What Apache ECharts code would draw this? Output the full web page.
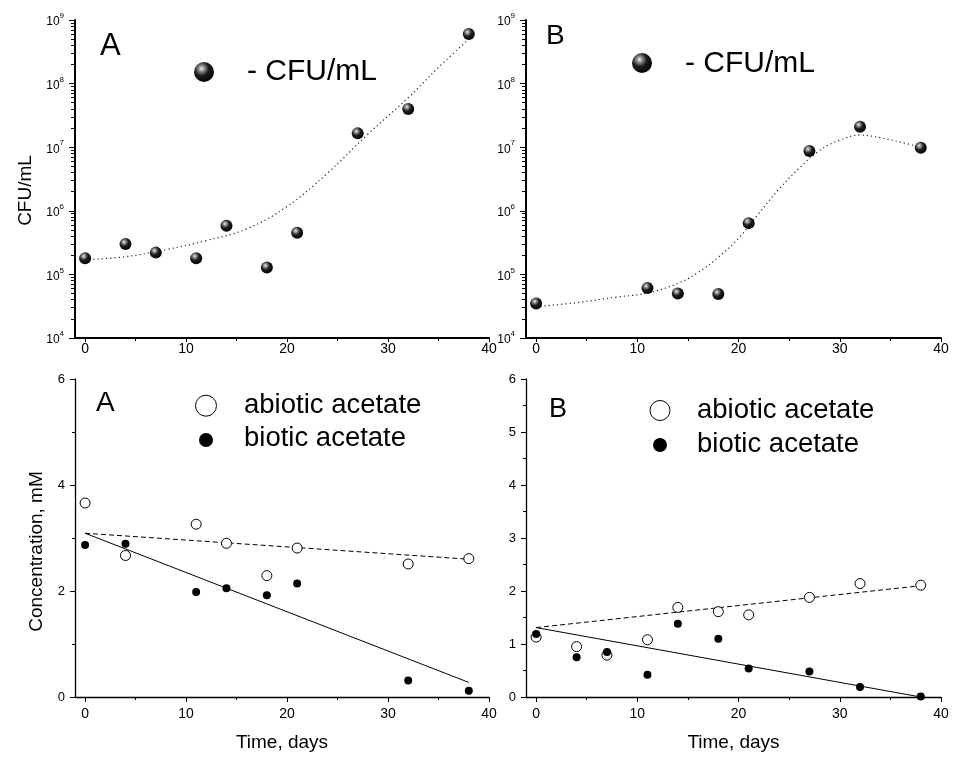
<!DOCTYPE html>
<html>
<head>
<meta charset="utf-8">
<script src="https://cdn.jsdelivr.net/npm/echarts@6/dist/echarts.min.js"></script>
<style>
html,body{margin:0;padding:0;background:#fff;}
#chart{width:953px;height:757px;}
</style>
</head>
<body>
<div id="chart"></div>
<script>
// ---- Data ----
// Panel A (top): CFU/mL
var daysCfuA = [0, 4, 7, 11, 14, 18, 21, 27, 32, 38];
var cfuA = [1.8e5, 3.0e5, 2.2e5, 1.8e5, 5.8e5, 1.28e5, 4.5e5, 1.65e7, 4.0e7, 6.0e8];
var fitDaysCfuA = [0, 4, 8, 12, 16, 20, 24, 28, 32, 35, 38];
var fitCfuA = [1.7e5, 1.9e5, 2.45e5, 3.4e5, 5.2e5, 1.17e6, 3.9e6, 1.6e7, 6.0e7, 1.8e8, 5.0e8];
// Panel B (top): CFU/mL
var daysCfuB = [0, 11, 14, 18, 21, 27, 32, 38];
var cfuB = [3.5e4, 6.1e4, 5.0e4, 4.9e4, 6.4e5, 8.7e6, 2.1e7, 9.8e6];
var fitDaysCfuB = [0, 4, 8, 11, 14, 16, 18, 20, 22, 24, 26, 28, 30, 32, 34, 36, 38];
var fitCfuB = [3.1e4, 3.6e4, 4.4e4, 5.1e4, 7.2e4, 1.07e5, 1.86e5, 3.7e5, 9.1e5, 2.2e6, 4.7e6, 8.9e6, 1.29e7, 1.55e7, 1.41e7, 1.2e7, 1.0e7];
// Panel A (bottom): acetate, mM
var daysAcA = [0, 4, 11, 14, 18, 21, 32, 38];
var abioticA = [3.66, 2.67, 3.26, 2.90, 2.29, 2.81, 2.51, 2.61];
var bioticA = [2.87, 2.89, 1.98, 2.05, 1.92, 2.14, 0.31, 0.12];
var fitDaysAcA = [0, 38];
var abioticFitA = [3.09, 2.60];
var bioticFitA = [3.09, 0.275];
// Panel B (bottom): acetate, mM
var daysAcB = [0, 4, 7, 11, 14, 18, 21, 27, 32, 38];
var abioticB = [1.13, 0.95, 0.79, 1.08, 1.69, 1.61, 1.55, 1.88, 2.14, 2.11];
var bioticB = [1.19, 0.75, 0.85, 0.42, 1.38, 1.10, 0.54, 0.48, 0.19, 0.01];
var fitDaysAcB = [0, 38];
var abioticFitB = [1.31, 2.10];
var bioticFitB = [1.31, 0.0];
// Tick values
var xMajorTicks = [0, 10, 20, 30, 40];
var xMinorTicks = [5, 15, 25, 35];
var logMajorTicks = [1e4, 1e5, 1e6, 1e7, 1e8, 1e9];
var logMinorMultipliers = [2, 3, 4, 5, 6, 7, 8, 9];
var concMajorTicksA = [0, 2, 4, 6];
var concMinorTicksA = [1, 3, 5];
var concMajorTicksB = [0, 1, 2, 3, 4, 5, 6];
var concMinorTicksB = [0.5, 1.5, 2.5, 3.5, 4.5, 5.5];

var logMinorTicks = [];
logMajorTicks.slice(0, -1).forEach(function (d) {
  logMinorMultipliers.forEach(function (m) { logMinorTicks.push(d * m); });
});

function zip(a, b) { return a.map(function (v, i) { return [v, b[i]]; }); }

var FONT = '"Liberation Sans", Arial, sans-serif';
var sphere = {
  type: 'radial', x: 0.38, y: 0.33, r: 0.7,
  colorStops: [
    { offset: 0, color: '#f0f0f0' },
    { offset: 0.18, color: '#9a9a9a' },
    { offset: 0.5, color: '#1e1e1e' },
    { offset: 1, color: '#000' }
  ]
};

var grids = [
  { left: 75, top: 20, width: 414, height: 318, outerBoundsMode: 'none' },
  { left: 526, top: 20, width: 415, height: 318, outerBoundsMode: 'none' },
  { left: 75, top: 379, width: 414, height: 318, outerBoundsMode: 'none' },
  { left: 526, top: 379, width: 415, height: 318, outerBoundsMode: 'none' }
];

var hiddenLine = { show: true, onZero: false, lineStyle: { color: 'rgba(0,0,0,0)', width: 0 } };

var xAxes = [], yAxes = [];
grids.forEach(function (g, i) {
  var top = i < 2;
  var xMain = {
    type: 'value', gridIndex: i, min: -1, max: 40, position: 'bottom',
    axisLine: { show: true, onZero: false, lineStyle: { color: '#000', width: top ? 2 : 1.3 } },
    axisTick: { show: true, inside: false, length: top ? 4 : 5, customValues: xMajorTicks, lineStyle: { color: '#000', width: 1 } },
    axisLabel: { customValues: xMajorTicks, margin: top ? 4 : 10, fontSize: 14, color: '#000', fontFamily: FONT },
    splitLine: { show: false }
  };
  if (!top) {
    xMain.name = 'Time, days';
    xMain.nameLocation = 'middle';
    xMain.nameGap = 36;
    xMain.nameTextStyle = { fontSize: 19, color: '#000', fontFamily: FONT };
  }
  xAxes.push(xMain);
  xAxes.push({
    type: 'value', gridIndex: i, min: -1, max: 40, position: 'bottom',
    axisLine: hiddenLine,
    axisTick: { show: true, inside: false, length: 3, customValues: xMinorTicks, lineStyle: { color: '#000', width: 1 } },
    axisLabel: { show: false }, splitLine: { show: false }
  });

  if (top) {
    var yMain = {
      type: 'log', logBase: 10, gridIndex: i, min: 1e4, max: 1e9, position: 'left',
      axisLine: { show: true, onZero: false, lineStyle: { color: '#000', width: 2 } },
      axisTick: { show: true, inside: false, length: 6, customValues: logMajorTicks, lineStyle: { color: '#000', width: 1 } },
      axisLabel: {
        customValues: logMajorTicks, margin: 11, color: '#000', fontFamily: FONT,
        formatter: function (v) { return '{b|10}{s|' + Math.round(Math.log10(v)) + '}'; },
        rich: {
          b: { fontSize: 12, fontFamily: FONT, color: '#000', verticalAlign: 'bottom', lineHeight: 16 },
          s: { fontSize: 8, fontFamily: FONT, color: '#000', verticalAlign: 'top', lineHeight: 10 }
        }
      },
      splitLine: { show: false }
    };
    if (i === 0) {
      yMain.name = 'CFU/mL';
      yMain.nameLocation = 'middle';
      yMain.nameRotate = 90;
      yMain.nameGap = 40;
      yMain.nameTextStyle = { fontSize: 19, color: '#000', fontFamily: FONT, padding: [0, 23, 0, 0] };
    }
    yAxes.push(yMain);
    yAxes.push({
      type: 'log', logBase: 10, gridIndex: i, min: 1e4, max: 1e9, position: 'left',
      axisLine: hiddenLine,
      axisTick: { show: true, inside: false, length: 4, customValues: logMinorTicks, lineStyle: { color: '#000', width: 1 } },
      axisLabel: { show: false }, splitLine: { show: false }
    });
  } else {
    var major = i === 2 ? concMajorTicksA : concMajorTicksB;
    var minor = i === 2 ? concMinorTicksA : concMinorTicksB;
    var yM = {
      type: 'value', gridIndex: i, min: 0, max: 6, position: 'left',
      axisLine: { show: true, onZero: false, lineStyle: { color: '#000', width: 1.3 } },
      axisTick: { show: true, inside: false, length: 5, customValues: major, lineStyle: { color: '#000', width: 1 } },
      axisLabel: { customValues: major, margin: 10, fontSize: 13, color: '#000', fontFamily: FONT },
      splitLine: { show: false }
    };
    if (i === 2) {
      yM.name = 'Concentration, mM';
      yM.nameLocation = 'middle';
      yM.nameRotate = 90;
      yM.nameGap = 29;
      yM.nameTextStyle = { fontSize: 19, color: '#000', fontFamily: FONT, padding: [0, 27, 0, 0] };
    }
    yAxes.push(yM);
    yAxes.push({
      type: 'value', gridIndex: i, min: 0, max: 6, position: 'left',
      axisLine: hiddenLine,
      axisTick: { show: true, inside: false, length: 3, customValues: minor, lineStyle: { color: '#000', width: 1 } },
      axisLabel: { show: false }, splitLine: { show: false }
    });
  }
});

function fitCurve(name, gi, data) {
  return {
    name: name, type: 'line', xAxisIndex: gi * 2, yAxisIndex: gi * 2, data: data,
    smooth: 0.4, showSymbol: false, silent: true, z: 1,
    lineStyle: { color: '#222', width: 1.2, type: [1.2, 3] }
  };
}
function fitLine(name, gi, data, dashed) {
  return {
    name: name, type: 'line', xAxisIndex: gi * 2, yAxisIndex: gi * 2, data: data,
    showSymbol: false, silent: true, z: 1,
    lineStyle: { color: '#000', width: 1, type: dashed ? [5, 3] : 'solid' }
  };
}
function cfuScatter(gi, data) {
  return {
    name: 'CFU/mL', type: 'scatter', xAxisIndex: gi * 2, yAxisIndex: gi * 2, data: data,
    symbol: 'circle', symbolSize: 12, z: 3, itemStyle: { color: sphere, opacity: 1 }
  };
}
function openScatter(gi, data) {
  return {
    name: 'abiotic acetate', type: 'scatter', xAxisIndex: gi * 2, yAxisIndex: gi * 2, data: data,
    symbol: 'circle', symbolSize: 10, z: 3,
    itemStyle: { color: '#fff', borderColor: '#000', borderWidth: 1, opacity: 1 }
  };
}
function filledScatter(gi, data) {
  return {
    name: 'biotic acetate', type: 'scatter', xAxisIndex: gi * 2, yAxisIndex: gi * 2, data: data,
    symbol: 'circle', symbolSize: 8, z: 4, itemStyle: { color: '#000', opacity: 1 }
  };
}

var series = [
  fitCurve('fit A', 0, zip(fitDaysCfuA, fitCfuA)),
  cfuScatter(0, zip(daysCfuA, cfuA)),
  fitCurve('fit B', 1, zip(fitDaysCfuB, fitCfuB)),
  cfuScatter(1, zip(daysCfuB, cfuB)),
  fitLine('abiotic fit A', 2, zip(fitDaysAcA, abioticFitA), true),
  fitLine('biotic fit A', 2, zip(fitDaysAcA, bioticFitA), false),
  openScatter(2, zip(daysAcA, abioticA)),
  filledScatter(2, zip(daysAcA, bioticA)),
  fitLine('abiotic fit B', 3, zip(fitDaysAcB, abioticFitB), true),
  fitLine('biotic fit B', 3, zip(fitDaysAcB, bioticFitB), false),
  openScatter(3, zip(daysAcB, abioticB)),
  filledScatter(3, zip(daysAcB, bioticB))
];

function txt(x, y, s, size) {
  return { type: 'text', x: x, y: y, z: 10,
    style: { text: s, fontSize: size, fontFamily: FONT, fill: '#000', align: 'left', verticalAlign: 'middle' } };
}
var graphic = [
  txt(100, 46, 'A', 31),
  txt(546, 36, 'B', 28),
  txt(96, 403.5, 'A', 28),
  txt(549, 409.5, 'B', 27),
  { type: 'circle', z: 10, shape: { cx: 204, cy: 72, r: 10 }, style: { fill: sphere } },
  txt(247, 71.7, '- CFU/mL', 30),
  { type: 'circle', z: 10, shape: { cx: 642, cy: 63, r: 10 }, style: { fill: sphere } },
  txt(685, 63.5, '- CFU/mL', 30),
  { type: 'circle', z: 10, shape: { cx: 206, cy: 405.7, r: 10.5 }, style: { fill: '#fff', stroke: '#000', lineWidth: 1 } },
  txt(244, 405.3, 'abiotic acetate', 27.5),
  { type: 'circle', z: 10, shape: { cx: 206, cy: 440, r: 7 }, style: { fill: '#000' } },
  txt(244, 438.6, 'biotic acetate', 27.5),
  { type: 'circle', z: 10, shape: { cx: 660, cy: 410.5, r: 10 }, style: { fill: '#fff', stroke: '#000', lineWidth: 1 } },
  txt(697, 410.3, 'abiotic acetate', 27.5),
  { type: 'circle', z: 10, shape: { cx: 660, cy: 445, r: 7 }, style: { fill: '#000' } },
  txt(697, 444.3, 'biotic acetate', 27.5)
];

var chart = echarts.init(document.getElementById('chart'), null, { renderer: 'canvas' });
chart.setOption({
  backgroundColor: '#fff',
  animation: false,
  grid: grids,
  xAxis: xAxes,
  yAxis: yAxes,
  series: series,
  graphic: graphic
});
</script>
</body>
</html>
